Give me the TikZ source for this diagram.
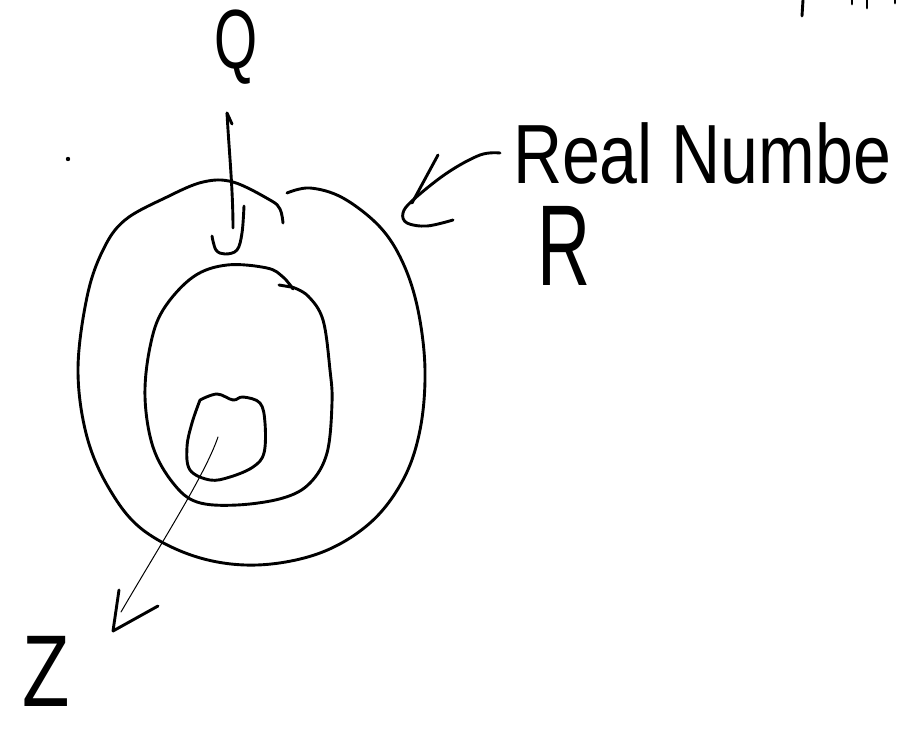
\documentclass[tikz,border=0pt]{standalone}
\usepackage{fontspec}
\setmainfont{Liberation Sans}
\begin{document}
\begin{tikzpicture}[x=1pt,y=-1pt,
  ink/.style={line width=2.9pt,line cap=round,line join=round},
  fine/.style={line width=1pt,line cap=round},
  hand/.style={inner sep=0pt,outer sep=0pt}]
\useasboundingbox (0,0) rectangle (897,729);
\fill[white] (0,0) rectangle (897,729);

% outer set (Real numbers)
\draw[ink] plot[smooth,tension=0.6] coordinates {(287,193) (310,188) (343,198) (380,227) (403,263) (418,310) (425,370) (420,430) (403,480) (370,523) (320,553) (257,565) (197,557) (143,530) (110,490) (87,437) (78,370) (87,297) (103,250) (125,220) (167,197) (203,182) (233,182) (270,200) (280,209) (283,223)};

% middle set (Q)
\draw[ink] plot[smooth,tension=0.6] coordinates {(292,287) (308,296) (323,320) (330,370) (332,403) (327,453) (310,483) (283,498) (237,505) (197,502) (173,483) (153,447) (145,397) (150,347) (163,310) (193,277) (227,265) (267,268) (283,277) (293,289)};
\draw[ink] (279,285) -- (291,287);

% inner set (Z)
\draw[ink] plot[smooth,tension=0.6] coordinates {(200,400) (217,394) (233,400) (243,397) (260,403) (265,423) (264,453) (253,467) (230,477) (210,480) (190,470) (187,447) (192,423) (200,400)};

% labels
\node[hand,anchor=center] (Q) at (236,47) {\fontsize{84}{84}\selectfont\scalebox{0.66}[1]{Q}};
\node[hand,anchor=base west] (RN) at (513,183) {\fontsize{84}{84}\selectfont\scalebox{0.81}[1]{Real Numbe}};
\node[hand,anchor=base west] (R) at (537,285) {\fontsize{115}{115}\selectfont\scalebox{0.64}[1]{R}};
\node[hand,anchor=base west] (Z) at (22,706) {\fontsize{102}{102}\selectfont\scalebox{0.76}[1]{Z}};

% arrow from Q into the middle set
\coordinate (qtop) at (227,113);
\coordinate (qend) at (233,228);
\draw[ink] (qtop) .. controls (229,150) and (233,190) .. (qend);
\draw[ink] (qtop) -- (232,124);
\draw[ink] plot[smooth,tension=0.6] coordinates {(212,236) (216,250) (225,254) (237,250) (242,233) (244,206)};

% arrow from the label to the outer set
\draw[ink] plot[smooth,tension=0.6] coordinates {(500,153) (480,155) (447,173) (413,200) (403,213) (407,223) (427,226) (453,220)};
\draw[ink] (438,155) -- (412,203);

% arrow from the inner set to Z
\coordinate (zs) at (218,437);
\coordinate (ze) at (121,612);
\draw[fine] (zs) .. controls (205,475) and (160,545) .. (ze);
\draw[ink] (119,590) -- (113,631) -- (158,606);

% stray marks
\fill (68,159) circle (2.2);
\draw[ink] (803,0) -- (802,16);
\draw[ink] (852,0) -- (852,4);
\draw[ink] (867,0) -- (867,8);
\draw[ink] (895,0) -- (895,3);
\end{tikzpicture}
\end{document}
